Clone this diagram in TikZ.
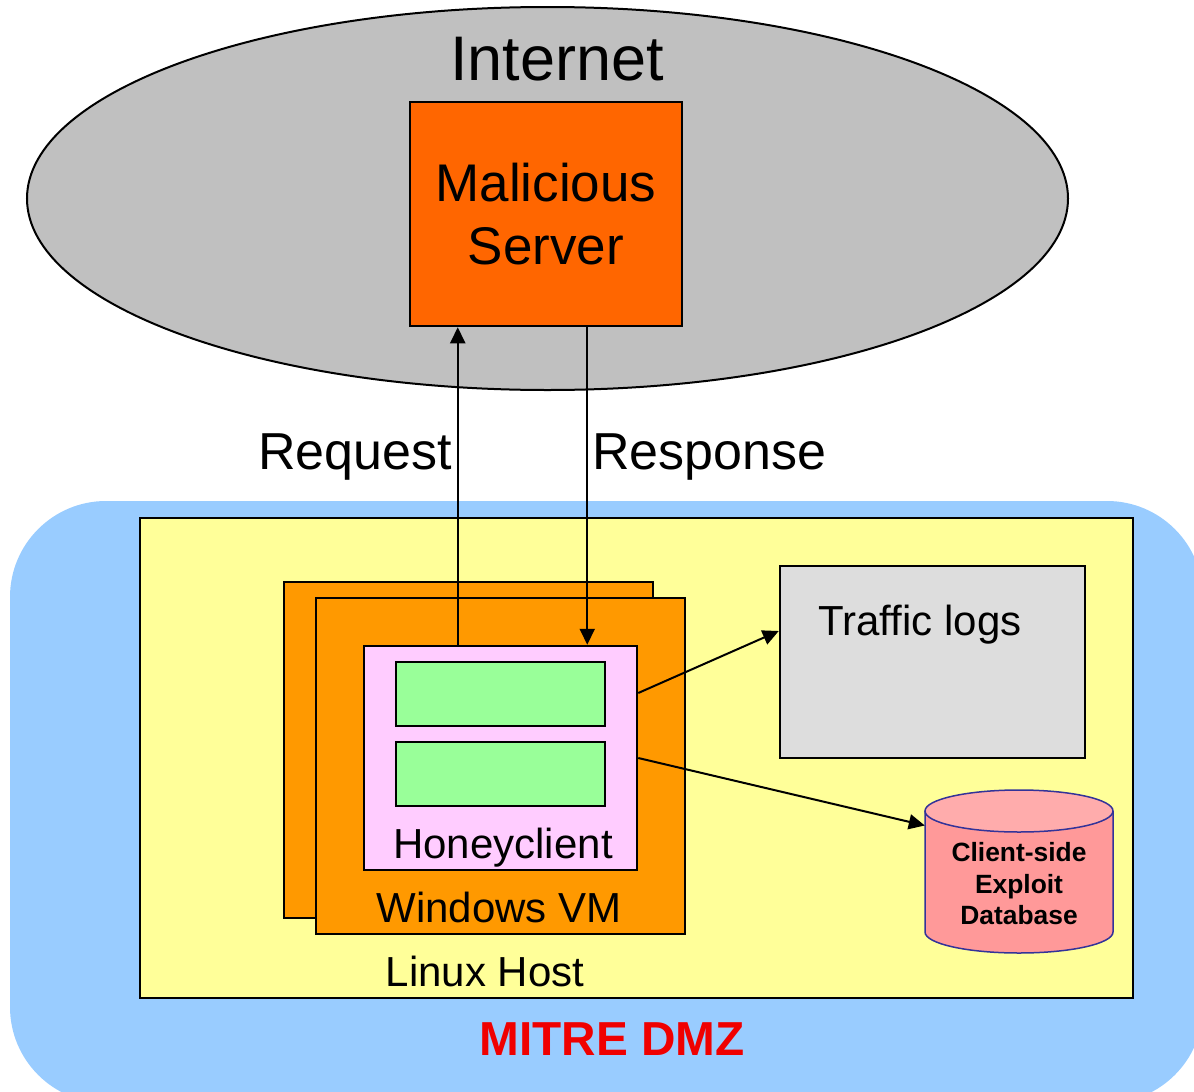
\documentclass[tikz,border=0pt]{standalone}
\usepackage{fontspec}
\setmainfont{Liberation Sans}
\usepackage{tikz}
\usetikzlibrary{shapes.geometric, arrows.meta, positioning}
\definecolor{netgray}{RGB}{192,192,192}
\definecolor{srvorange}{RGB}{255,102,0}
\definecolor{dmzblue}{RGB}{153,204,255}
\definecolor{hostyellow}{RGB}{255,255,153}
\definecolor{vmorange}{RGB}{255,153,0}
\definecolor{hcpink}{RGB}{255,204,255}
\definecolor{slotgreen}{RGB}{153,255,153}
\definecolor{loggray}{RGB}{221,221,221}
\definecolor{dbbody}{RGB}{255,153,153}
\definecolor{dbtop}{RGB}{255,172,172}
\definecolor{dbedge}{RGB}{51,51,153}
\definecolor{dmzred}{RGB}{240,0,0}
\tikzset{
  box/.style={rectangle, draw=black, line width=2.5pt, inner sep=0pt},
  hugelabel/.style={font=\fontsize{63}{72}\selectfont, inner sep=0pt, anchor=base},
  biglabel/.style={font=\fontsize{52}{62}\selectfont, inner sep=0pt, anchor=base},
  boxlabel/.style={font=\fontsize{42}{50}\selectfont, inner sep=0pt, anchor=base},
  flow/.style={-{Triangle[length=16pt,width=15pt]}, line width=2pt, color=black}
}

\begin{document}
\begin{tikzpicture}[x=1pt, y=-1pt]
  \clip (0,0) rectangle (1194,1092);

  % internet cloud with the server
  \node[ellipse, draw=black, line width=2pt, fill=netgray,
    minimum width=1041pt, minimum height=383pt] (internet) at (547.5,198.5) {};
  \node[hugelabel] (inetlabel) at (557,80) {Internet};
  \node[box, fill=srvorange, minimum width=272pt, minimum height=224pt,
    align=center, font=\fontsize{53}{63}\selectfont] (server) at (546,214) {Malicious\\Server};

  % DMZ and the linux host
  \fill[dmzblue, rounded corners=96pt] (10,501) rectangle (1203,1103);
  \node[box, fill=hostyellow, minimum width=993pt, minimum height=480pt] (host) at (636.5,758) {};
  \node[boxlabel] (hostlabel) at (485,986) {Linux Host};
  \node[font=\bfseries\fontsize{47.7}{56}\selectfont, text=dmzred, inner sep=0pt, anchor=base]
    (dmzlabel) at (612,1055) {MITRE DMZ};

  % stacked VMs
  \node[box, fill=vmorange, minimum width=369pt, minimum height=336pt] (vmback) at (468.5,750) {};
  \node[box, fill=vmorange, minimum width=369pt, minimum height=336pt] (vmfront) at (500.5,766) {};
  \node[boxlabel] (vmlabel) at (499,922) {Windows VM};

  % honeyclient
  \node[box, fill=hcpink, minimum width=273pt, minimum height=224pt] (honey) at (500.5,758) {};
  \node[box, fill=slotgreen, minimum width=209pt, minimum height=64pt] (slota) at (500.5,694) {};
  \node[box, fill=slotgreen, minimum width=209pt, minimum height=64pt, below=13.5pt of slota] (slotb) {};
  \node[boxlabel] (hclabel) at (503,858) {Honeyclient};

  % outputs
  \node[box, fill=loggray, minimum width=305pt, minimum height=192pt] (logs) at (932.5,662) {};
  \node[boxlabel] (logslabel) at (920,635) {Traffic logs};
  % database drum
  \filldraw[fill=dbbody, draw=dbedge, line width=1.5pt] (925,811) -- (925,932)
    arc[start angle=180, end angle=360, x radius=94pt, y radius=21pt] -- (1113,811);
  \filldraw[fill=dbtop, draw=dbedge, line width=1.5pt] (1019,811) ellipse[x radius=94pt, y radius=21pt];
  \node[inner sep=0pt, minimum width=188pt, minimum height=163pt] (db) at (1019,871.5) {};
  \node[align=center, inner sep=0pt, font=\bfseries\fontsize{26.4}{31.5}\selectfont]
    (dblabel) at (1019,884) {Client-side\\Exploit\\Database};

  % traffic
  \draw[flow] ([xshift=95pt]honey.north west) -- ([xshift=49pt]server.south west);
  \draw[flow] ([xshift=-96pt]server.south east) -- ([xshift=-51pt]honey.north east);
  \node[biglabel, anchor=base east] (reqlabel) at (452,469) {Request};
  \node[biglabel, anchor=base west] (resplabel) at (592,469) {Response};
  \draw[flow] ([yshift=65pt]honey.east) -- ([yshift=31pt]logs.west);
  \draw[flow] (honey.east) -- ([yshift=46pt]db.west);
\end{tikzpicture}
\end{document}
